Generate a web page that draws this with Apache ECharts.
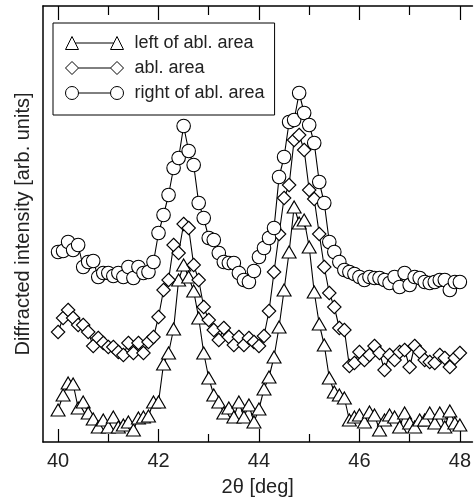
<!DOCTYPE html>
<html>
<head>
<meta charset="utf-8">
<script src="https://cdn.jsdelivr.net/npm/echarts@6/dist/echarts.min.js"></script>
<style>
  html, body { margin: 0; padding: 0; background: #fff; }
  #chart { width: 474px; height: 502px; }
</style>
</head>
<body>
<div id="chart"></div>
<script>
// Diffraction angle 2θ in degrees (scan step 0.1°)
const twoTheta = [
  40.0, 40.1, 40.2, 40.3, 40.4, 40.5, 40.6, 40.7, 40.8, 40.9,
  41.0, 41.1, 41.2, 41.3, 41.4, 41.5, 41.6, 41.7, 41.8, 41.9,
  42.0, 42.1, 42.2, 42.3, 42.4, 42.5, 42.6, 42.7, 42.8, 42.9,
  43.0, 43.1, 43.2, 43.3, 43.4, 43.5, 43.6, 43.7, 43.8, 43.9,
  44.0, 44.1, 44.2, 44.3, 44.4, 44.5, 44.6, 44.7, 44.8, 44.9,
  45.0, 45.1, 45.2, 45.3, 45.4, 45.5, 45.6, 45.7, 45.8, 45.9,
  46.0, 46.1, 46.2, 46.3, 46.4, 46.5, 46.6, 46.7, 46.8, 46.9,
  47.0, 47.1, 47.2, 47.3, 47.4, 47.5, 47.6, 47.7, 47.8, 47.9,
  48.0
];

// Intensities (arb. units, curves offset vertically)
const leftOfArea = [
  32, 47, 59, 58, 34, 40, 29, 23, 15, 22,
  15, 25, 15, 17, 20, 12, 24, 25, 26, 40,
  40, 78, 89, 113, 162, 177, 165, 151, 124, 89,
  64, 47, 40, 29, 34, 25, 40, 25, 37, 20,
  33, 53, 65, 85, 115, 152, 190, 235, 219, 222,
  195, 150, 118, 97, 64, 50, 47, 44, 22, 25,
  27, 20, 30, 27, 12, 22, 27, 25, 15, 29,
  19, 15, 22, 22, 29, 19, 29, 15, 31, 19,
  17
];

const ablArea = [
  110, 124, 132, 124, 117, 117, 110, 96, 104, 99,
  95, 95, 90, 87, 99, 89, 99, 89, 100, 105,
  125, 152, 162, 197, 189, 218, 214, 177, 162, 135,
  122, 112, 102, 114, 105, 97, 105, 97, 104, 100,
  96, 106, 131, 170, 208, 244, 257, 302, 307, 292,
  252, 243, 208, 175, 149, 135, 114, 112, 76, 79,
  90, 82, 87, 96, 89, 72, 87, 82, 90, 92,
  75, 96, 90, 82, 80, 79, 87, 84, 75, 84,
  89
];

const rightOfArea = [
  190, 191, 200, 192, 197, 175, 180, 181, 165, 169,
  169, 166, 169, 165, 175, 164, 175, 169, 170, 180,
  209, 227, 247, 274, 284, 316, 291, 277, 239, 224,
  204, 202, 189, 180, 179, 179, 169, 162, 160, 171,
  185, 194, 204, 214, 265, 285, 320, 322, 349, 329,
  317, 299, 260, 239, 200, 190, 180, 172, 170, 168,
  165, 162, 165, 164, 164, 162, 159, 165, 155, 169,
  157, 165, 164, 160, 159, 160, 162, 162, 152, 160,
  160
];

const seriesNames = ['left of abl. area', 'abl. area', 'right of abl. area'];
const majorTicks = [40, 42, 44, 46, 48];
const minorTicks = [41, 43, 45, 47];

const FONT = '"Liberation Sans", Arial, Helvetica, sans-serif';
const TEXT = '#222';

// Legend icons: marker – line – marker
const iconTriangle = 'path://M0 13 L6.5 0 L13 13 Z M9.75 6.5 L48.25 6.5 M45 13 L51.5 0 L58 13 Z';
const iconDiamond = 'path://M0 6.5 L6.5 0 L13 6.5 L6.5 13 Z M13 6.5 L45 6.5 M45 6.5 L51.5 0 L58 6.5 L51.5 13 Z';
const iconCircle = 'path://M0 6.5 A6.5 6.5 0 1 1 13 6.5 A6.5 6.5 0 1 1 0 6.5 Z M13 6.5 L45 6.5 M45 6.5 A6.5 6.5 0 1 1 58 6.5 A6.5 6.5 0 1 1 45 6.5 Z';

const pairs = ys => twoTheta.map((x, i) => [x, ys[i]]);

function xAxisDef(pos, ticks, len, withLine, withLabels) {
  return {
    type: 'value', position: pos, min: 39.7, max: 48.25,
    axisLine: { show: withLine, lineStyle: { color: '#000', width: 1.5 } },
    axisTick: { show: true, inside: true, length: len, customValues: ticks,
                lineStyle: { color: '#000', width: 1.2 } },
    axisLabel: withLabels
      ? { show: true, customValues: ticks, color: TEXT, fontSize: 20, fontFamily: FONT, margin: 9 }
      : { show: false },
    splitLine: { show: false }
  };
}

const bottomMain = xAxisDef('bottom', majorTicks, 13, true, true);
bottomMain.name = '2θ [deg]';
bottomMain.nameLocation = 'middle';
bottomMain.nameGap = 35;
bottomMain.nameTextStyle = { color: TEXT, fontSize: 20, fontFamily: FONT };

const lineSeries = (name, ys, symbol, size) => ({
  name, type: 'line', data: pairs(ys),
  symbol, symbolSize: size, showSymbol: true,
  lineStyle: { color: '#000', width: 1.1 },
  itemStyle: { color: '#fff', borderColor: '#000', borderWidth: 1.1 },
  emphasis: { disabled: true }
});

const chart = echarts.init(document.getElementById('chart'), null, { renderer: 'canvas' });
chart.setOption({
  animation: false,
  backgroundColor: '#fff',
  grid: { left: 43, top: 6, width: 433.5, height: 436.5, containLabel: false },
  legend: {
    orient: 'vertical', left: 53, top: 23,
    padding: [11, 10, 13, 12],
    itemGap: 7, itemWidth: 58, itemHeight: 13,
    borderColor: '#000', borderWidth: 1, backgroundColor: '#fff',
    textStyle: { color: TEXT, fontSize: 18, fontFamily: FONT, padding: [0, 0, 0, 6] },
    itemStyle: { color: '#fff', borderColor: '#000', borderWidth: 1 },
    selectedMode: false,
    data: [
      { name: seriesNames[0], icon: iconTriangle },
      { name: seriesNames[1], icon: iconDiamond },
      { name: seriesNames[2], icon: iconCircle }
    ]
  },
  xAxis: [
    bottomMain,
    xAxisDef('bottom', minorTicks, 8, false, false),
    xAxisDef('top', majorTicks, 14, true, false),
    xAxisDef('top', minorTicks, 9, false, false)
  ],
  yAxis: {
    type: 'value', min: 0, max: 436,
    axisLine: { show: true, lineStyle: { color: '#000', width: 1.5 } },
    axisTick: { show: false }, axisLabel: { show: false }, splitLine: { show: false },
    name: 'Diffracted intensity [arb. units]',
    nameLocation: 'middle', nameGap: 10,
    nameTextStyle: { color: TEXT, fontSize: 20, fontFamily: FONT }
  },
  series: [
    lineSeries(seriesNames[0], leftOfArea, 'triangle', [14, 12]),
    lineSeries(seriesNames[1], ablArea, 'diamond', [13.5, 13.5]),
    lineSeries(seriesNames[2], rightOfArea, 'circle', 13.5)
  ]
});
</script>
</body>
</html>
